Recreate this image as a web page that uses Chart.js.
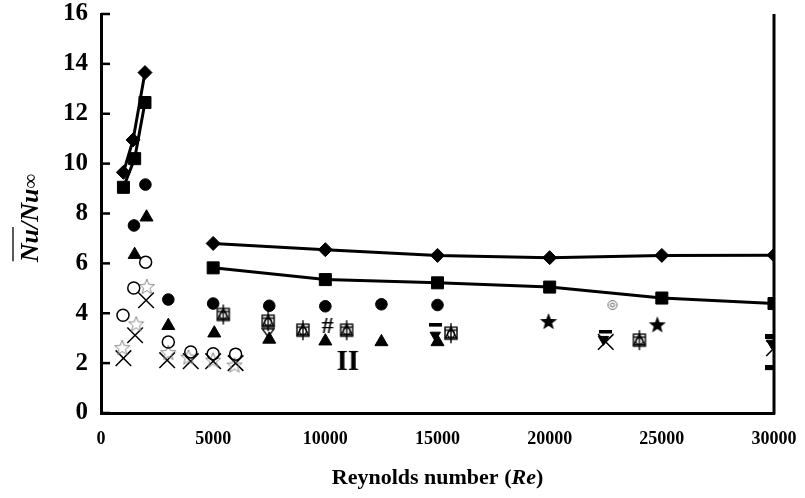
<!DOCTYPE html>
<html>
<head>
<meta charset="utf-8">
<script src="https://cdn.jsdelivr.net/npm/chart.js@4.4.1/dist/chart.umd.min.js"></script>
<style>
  html, body { margin: 0; padding: 0; background: #fff; }
  #wrap { width: 805px; height: 498px; }
</style>
</head>
<body>
<div id="wrap"><canvas id="c"></canvas></div>
<script>
/* ── Data ── */
const xTicks = [0, 5000, 10000, 15000, 20000, 25000, 30000];
const yTicks = [0, 2, 4, 6, 8, 10, 12, 14, 16];

const reDiamondLow  = [1000, 1430, 1960];
const nuDiamondLow  = [9.65, 10.95, 13.65];
const reSquareLow   = [1000, 1500, 1960];
const nuSquareLow   = [9.05, 10.2, 12.45];

const reHigh        = [5000, 10000, 15000, 20000, 25000, 30000];
const nuDiamondHigh = [6.8, 6.55, 6.32, 6.23, 6.32, 6.33];
const nuSquareHigh  = [5.82, 5.35, 5.22, 5.05, 4.61, 4.39];

const reDot   = [1470, 1980, 3000, 5000, 7500, 10000, 12500, 15000];
const nuDot   = [7.52, 9.16, 4.55, 4.39, 4.3, 4.28, 4.36, 4.33];

const reTri   = [1500, 2030, 3000, 5050, 7500, 10000, 12500, 15000];
const nuTri   = [6.35, 7.85, 3.5, 3.2, 2.95, 2.88, 2.85, 2.85];

const reRing  = [980, 1460, 1990, 3000, 4000, 5000, 6000];
const nuRing  = [3.92, 5.01, 6.05, 2.85, 2.45, 2.38, 2.36];

const reStar  = [950, 1570, 2040, 3000, 3900, 5000, 5950];
const nuStar  = [2.6, 3.55, 5.05, 2.4, 2.22, 2.1, 1.9];

const reCross = [1000, 1520, 2010, 2950, 4000, 5000, 6000, 22500, 30000];
const nuCross = [2.2, 3.12, 4.52, 2.12, 2.08, 2.08, 2.0, 2.85, 2.6];

const reCombo = [5450, 7450, 9000, 10950, 15600, 24000];
const nuCombo = [3.95, 3.68, 3.32, 3.32, 3.2, 2.92];

const reHourglass = [7450];
const nuHourglass = [3.22];

const reHash  = [10100];
const nuHash  = [3.45];

const reBeam  = [11000];
const nuBeam  = [2.05];

const reBlackStar = [19950, 24800];
const nuBlackStar = [3.65, 3.52];

const reTarget = [22800];
const nuTarget = [4.33];

const reDash  = [14900, 22500];
const nuDash  = [3.52, 3.25];

const reBar   = [30000, 30000];
const nuBar   = [3.05, 1.8];

const reDown  = [14900, 22400, 29900];
const nuDown  = [3.12, 2.95, 2.8];

const pts = (xs, ys) => xs.map((x, i) => ({ x, y: ys[i] }));

/* ── Marker glyphs ── */
function symbol(w, h, draw) {
    const c = document.createElement('canvas');
    c.width = w; c.height = h;
    draw(c.getContext('2d'), w, h);
    return c;
}

function starPath(g, cx, cy, R, r) {
    g.beginPath();
    for (let i = 0; i < 10; i++) {
        const a = -Math.PI / 2 + i * Math.PI / 5;
        const rr = i % 2 ? r : R;
        g.lineTo(cx + rr * Math.cos(a), cy + rr * Math.sin(a));
    }
    g.closePath();
}

const starOpen = symbol(18, 18, g => {
    starPath(g, 9, 9, 8, 3.4);
    g.strokeStyle = '#8a8a8a'; g.lineWidth = 1; g.stroke();
});
const starBlack = symbol(20, 20, g => {
    starPath(g, 10, 10, 9, 3.8);
    g.fillStyle = '#000'; g.fill();
});
const hashMark = symbol(20, 26, g => {
    g.font = 'bold 24px "Liberation Serif"';
    g.textAlign = 'center'; g.textBaseline = 'middle';
    g.fillStyle = '#000'; g.fillText('#', 10, 13);
});
const beamMark = symbol(24, 28, g => {
    g.font = 'bold 29px "Liberation Serif"';
    g.textAlign = 'center'; g.textBaseline = 'middle';
    g.fillStyle = '#000'; g.fillText('II', 12, 15);
});
const targetMark = symbol(12, 12, g => {
    g.strokeStyle = '#666'; g.lineWidth = 1;
    g.beginPath(); g.arc(6, 6, 4.5, 0, Math.PI * 2); g.stroke();
    g.beginPath(); g.arc(6, 6, 2, 0, Math.PI * 2); g.stroke();
});
const dashMark = symbol(13, 4, g => { g.fillStyle = '#000'; g.fillRect(0, 0, 13, 3.5); });
const barMark  = symbol(18, 6, g => { g.fillStyle = '#000'; g.fillRect(0, 0, 18, 5); });
const comboMark = symbol(18, 22, g => {
    g.strokeStyle = '#000'; g.lineWidth = 1.4;
    g.strokeRect(3, 5, 12, 12);
    g.beginPath(); g.moveTo(9, 5); g.lineTo(14.5, 15.5); g.lineTo(3.5, 15.5); g.closePath(); g.stroke();
    g.beginPath(); g.arc(9, 12, 3.5, 0, Math.PI * 2); g.stroke();
    g.beginPath(); g.moveTo(9, 1); g.lineTo(9, 21); g.stroke();
    g.beginPath(); g.moveTo(3, 8); g.lineTo(15, 8); g.stroke();
});
const hourglassMark = symbol(14, 10, g => {
    g.strokeStyle = '#000'; g.lineWidth = 1.4;
    g.beginPath(); g.moveTo(1, 1); g.lineTo(13, 1); g.lineTo(7, 9); g.closePath(); g.stroke();
});

/* ── Datasets ── */
const black = '#000';
function lineSet(data, style, radius) {
    return {
        data, showLine: true, borderColor: black, borderWidth: 3,
        pointStyle: style, pointRadius: radius, pointBackgroundColor: black,
        pointBorderColor: black, pointBorderWidth: 1
    };
}
function markSet(data, style, radius, opts = {}) {
    return Object.assign({
        data, showLine: false, pointStyle: style, pointRadius: radius,
        pointBackgroundColor: black, pointBorderColor: black, pointBorderWidth: 1
    }, opts);
}

const datasets = [
    lineSet(pts(reDiamondLow, nuDiamondLow), 'rectRot', 7),
    lineSet(pts(reSquareLow, nuSquareLow), 'rect', 8.5),
    lineSet(pts(reHigh, nuDiamondHigh), 'rectRot', 7),
    lineSet(pts(reHigh, nuSquareHigh), 'rect', 8.5),
    markSet(pts(reDot, nuDot), 'circle', 5.8),
    markSet(pts(reTri, nuTri), 'triangle', 7.5),
    markSet(pts(reRing, nuRing), 'circle', 6, { pointBackgroundColor: 'rgba(0,0,0,0)', pointBorderWidth: 1.5 }),
    markSet(pts(reStar, nuStar), starOpen, 9),
    markSet(pts(reCross, nuCross), 'crossRot', 11, { pointBorderWidth: 1.5 }),
    markSet(pts(reCombo, nuCombo), comboMark, 10),
    markSet(pts(reHourglass, nuHourglass), hourglassMark, 6),
    markSet(pts(reHash, nuHash), hashMark, 10),
    markSet(pts(reBeam, nuBeam), beamMark, 12),
    markSet(pts(reBlackStar, nuBlackStar), starBlack, 10),
    markSet(pts(reTarget, nuTarget), targetMark, 6),
    markSet(pts(reDash, nuDash), dashMark, 6),
    markSet(pts(reBar, nuBar), barMark, 8),
    markSet(pts(reDown, nuDown), 'triangle', 6, { rotation: 180 })
];

/* ── Frame: right edge, inward ticks, axis titles ── */
const frame = {
    id: 'frame',
    afterDraw(chart) {
        const { ctx, chartArea: a, scales } = chart;
        ctx.save();
        ctx.strokeStyle = '#000';
        ctx.lineWidth = 3;
        ctx.beginPath();
        ctx.moveTo(a.right, a.top);
        ctx.lineTo(a.right, a.bottom + 1.5);
        ctx.stroke();

        ctx.lineWidth = 2.5;
        yTicks.forEach(v => {
            const y = scales.y.getPixelForValue(v);
            ctx.beginPath();
            ctx.moveTo(a.left, y);
            ctx.lineTo(a.left + 9, y);
            ctx.stroke();
        });

        // x title: Reynolds number (Re)
        ctx.fillStyle = '#000';
        ctx.textBaseline = 'middle';
        const f1 = 'bold 22px "Liberation Serif"';
        const f2 = 'bold italic 22px "Liberation Serif"';
        const parts = [['Reynolds number (', f1], ['Re', f2], [')', f1]];
        let total = 0;
        parts.forEach(p => { ctx.font = p[1]; total += ctx.measureText(p[0]).width; });
        let x = (a.left + a.right) / 2 - total / 2;
        parts.forEach(p => {
            ctx.font = p[1];
            ctx.textAlign = 'left';
            ctx.fillText(p[0], x, 478);
            x += ctx.measureText(p[0]).width;
        });

        // y title: overline Nu / Nu∞
        ctx.translate(31, 218);
        ctx.rotate(-Math.PI / 2);
        const g1 = 'bold italic 26px "Liberation Serif"';
        const g2 = '21px "Liberation Serif"';
        const yparts = [['Nu', g1], ['/Nu', g1], ['\u221E', g2]];
        let ytotal = 0;
        yparts.forEach(p => { ctx.font = p[1]; ytotal += ctx.measureText(p[0]).width; });
        let px = -ytotal / 2;
        yparts.forEach((p, i) => {
            ctx.font = p[1];
            ctx.textAlign = 'left';
            const w = ctx.measureText(p[0]).width;
            ctx.fillText(p[0], px, 0);
            if (i === 0) {
                ctx.lineWidth = 1.3;
                ctx.beginPath();
                ctx.moveTo(px + 1, -18);
                ctx.lineTo(px + w + 2, -18);
                ctx.stroke();
            }
            px += w;
        });
        ctx.restore();
    }
};

/* ── Chart ── */
new Chart(document.getElementById('c'), {
    type: 'scatter',
    data: { datasets },
    plugins: [frame],
    options: {
        responsive: true,
        maintainAspectRatio: false,
        animation: false,
        layout: { padding: { top: 14, right: 31, left: 0, bottom: 0 } },
        plugins: { legend: { display: false }, tooltip: { enabled: false } },
        scales: {
            x: {
                type: 'linear', min: 0, max: 30000,
                afterBuildTicks: s => { s.ticks = xTicks.map(v => ({ value: v })); },
                afterFit: s => { s.height = 85; s.paddingLeft = 0; s.paddingRight = 0; },
                grid: { display: false, drawTicks: false },
                border: { display: true, color: '#000', width: 3 },
                ticks: {
                    color: '#000', padding: 16, maxRotation: 0,
                    font: { family: '"Liberation Serif"', size: 18, weight: 'bold' },
                    callback: v => String(v)
                }
            },
            y: {
                type: 'linear', min: 0, max: 16,
                afterBuildTicks: s => { s.ticks = yTicks.map(v => ({ value: v })); },
                afterFit: s => { s.width = 101; s.paddingTop = 0; s.paddingBottom = 0; },
                grid: { display: false, drawTicks: false },
                border: { display: true, color: '#000', width: 3 },
                ticks: {
                    color: '#000', padding: 13,
                    font: { family: '"Liberation Serif"', size: 25, weight: 'bold' },
                    callback: v => String(v)
                }
            }
        }
    }
});
</script>
</body>
</html>
